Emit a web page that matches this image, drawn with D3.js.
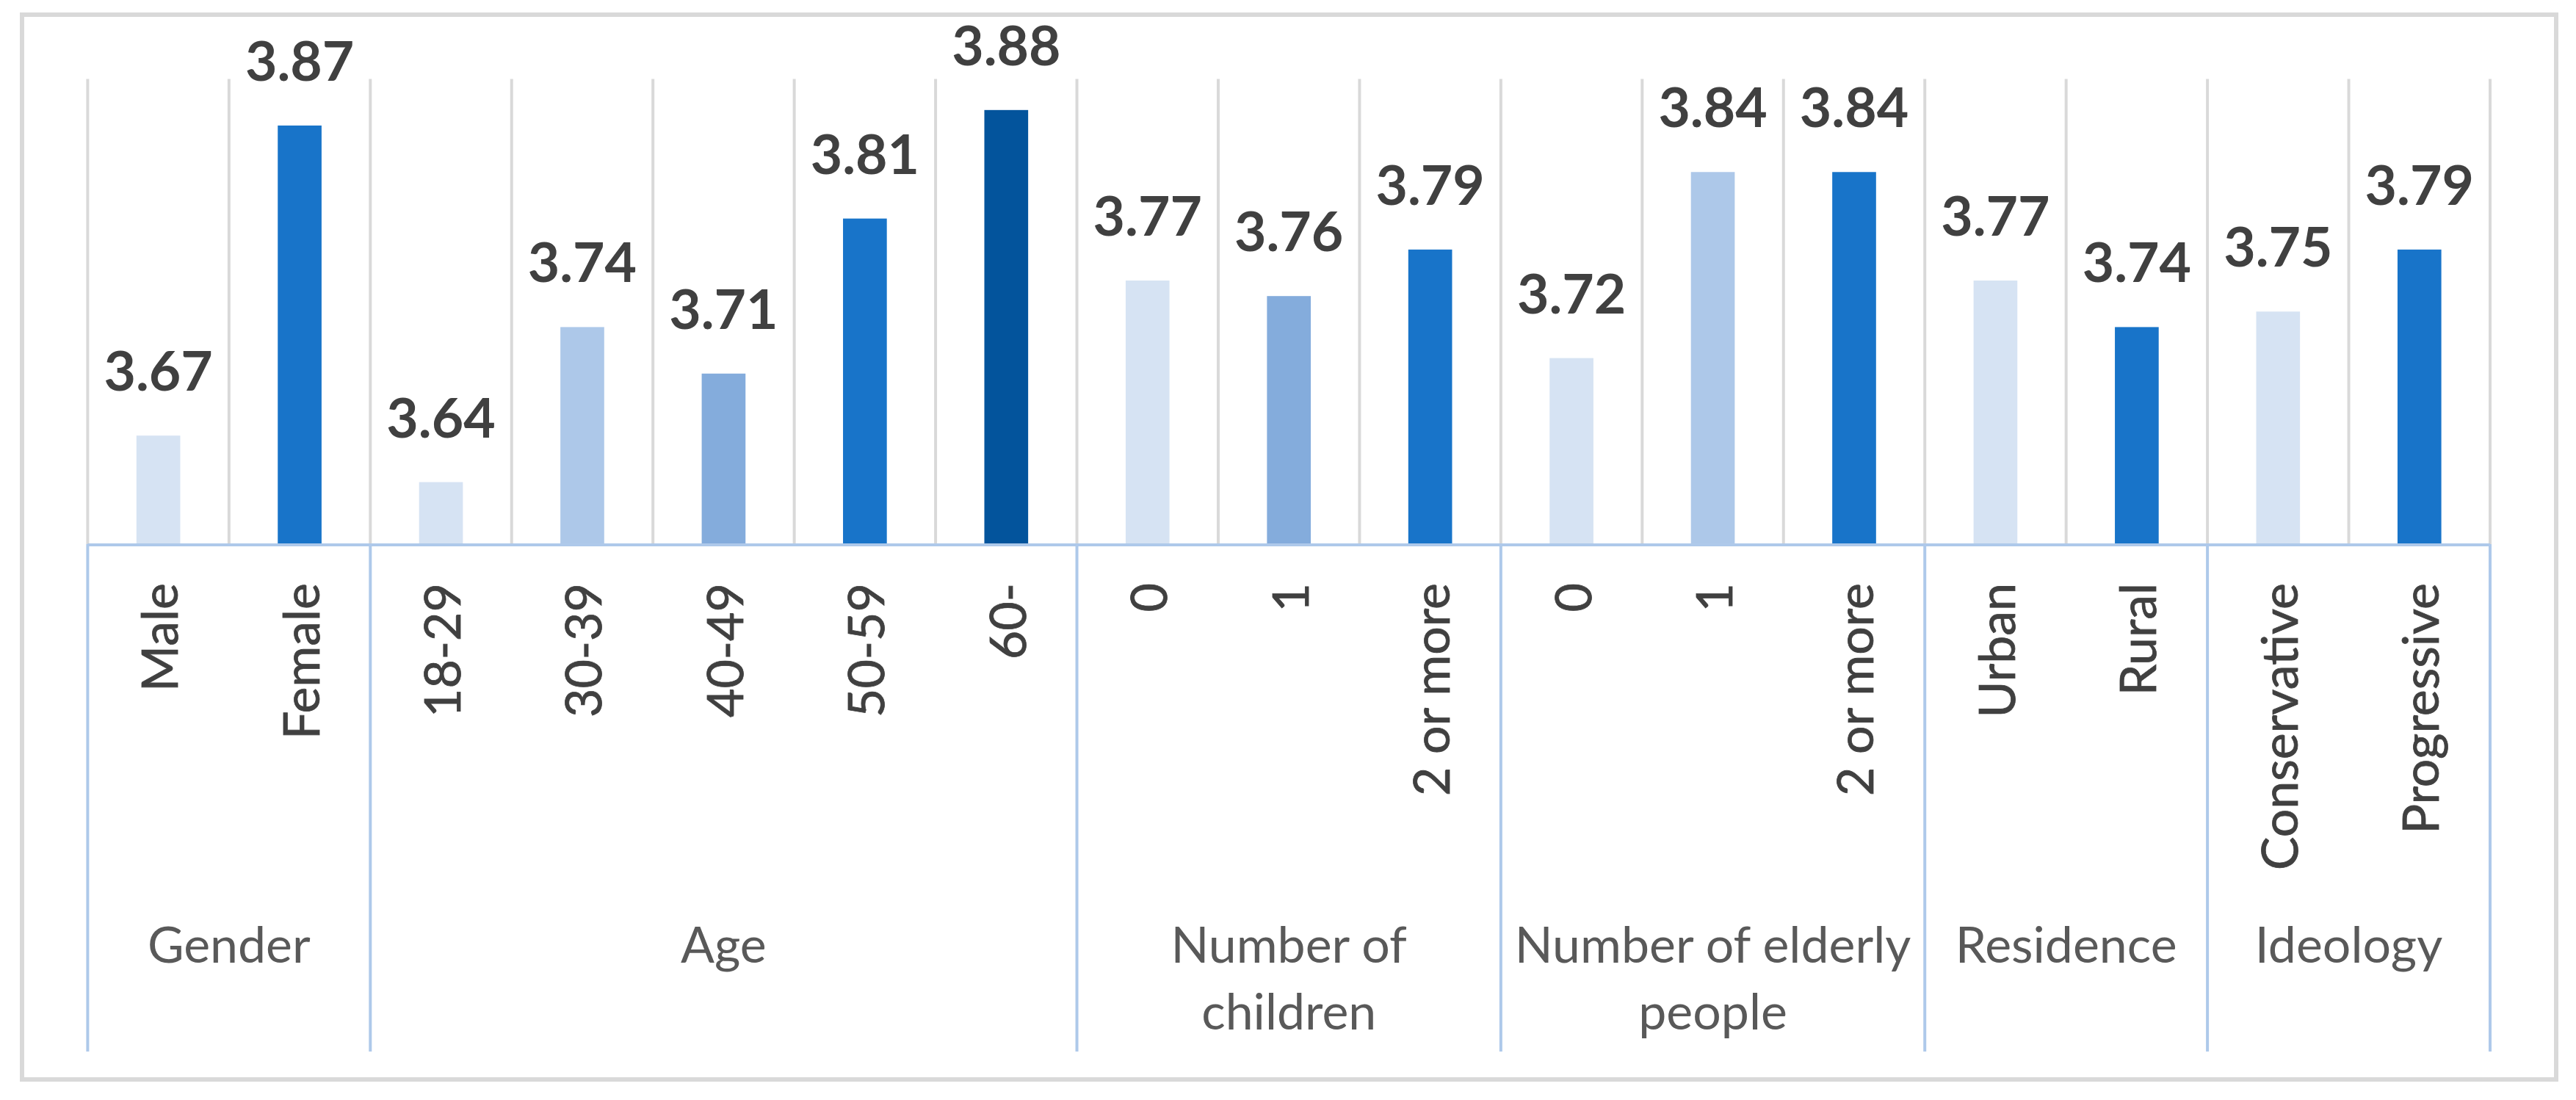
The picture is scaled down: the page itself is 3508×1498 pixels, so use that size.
<!DOCTYPE html>
<html>
<head>
    <title>Mean scores by respondent group</title>
    <script src="https://d3js.org/d3.v7.min.js"></script>
    <style>
        body { margin: 0; background: #fff; }
        .grid { stroke: #d9d9d9; stroke-width: 4px; }
        .axis-line { stroke: #aec9ea; stroke-width: 4px; }
        .value-label { font-family: Lato, "Open Sans", sans-serif; font-weight: bold; fill: #404040; }
        .cat-label { font-family: Lato, "Open Sans", sans-serif; fill: #404040; stroke: #404040; stroke-width: 0.8px; }
        .group-label { font-family: Lato, "Open Sans", sans-serif; fill: #595959; }
    </style>
</head>
<body>
    <div id="chart"></div>

    <script>
        // Data
        const categories = ["Male", "Female", "18-29", "30-39", "40-49", "50-59", "60-",
            "0", "1", "2 or more", "0", "1", "2 or more", "Urban", "Rural", "Conservative", "Progressive"];
        const values = [3.67, 3.87, 3.64, 3.74, 3.71, 3.81, 3.88,
            3.77, 3.76, 3.79, 3.72, 3.84, 3.84, 3.77, 3.74, 3.75, 3.79];
        const groups = ["Gender", "Age", "Number of\nchildren", "Number of elderly\npeople", "Residence", "Ideology"];
        const groupSizes = [2, 5, 3, 3, 2, 2];

        // bar fills, one per bar
        const barColors = ["#d6e3f3", "#1874c9", "#d6e3f3", "#adc8e9", "#84acdc", "#1874c9", "#03549c",
            "#d6e3f3", "#84acdc", "#1874c9", "#d6e3f3", "#adc8e9", "#1874c9",
            "#d6e3f3", "#1874c9", "#d6e3f3", "#1874c9"];

        const W = 3508, H = 1498;
        const plotLeft = 119.4, plotRight = 3391, plotTop = 107.6, base = 741, axisBottom = 1432;

        let svg = d3.select("#chart").append("svg")
            .attr("width", W)
            .attr("height", H);

        svg.append("rect").attr("width", W).attr("height", H).attr("fill", "#fff");

        // outer frame
        svg.append("rect")
            .attr("x", 30).attr("y", 20)
            .attr("width", 3451).attr("height", 1450)
            .attr("fill", "none")
            .attr("stroke", "#d9d9d9")
            .attr("stroke-width", 6);

        let idx = d3.range(categories.length);
        let x = d3.scaleBand().domain(idx).range([plotLeft, plotRight]).padding(0);
        let xBar = x.copy().paddingInner(0.69).paddingOuter(0.345);
        let y = d3.scaleLinear().domain([3.6, 3.9]).range([base, plotTop]);

        // vertical gridlines at every category edge
        let edges = d3.range(categories.length + 1).map(i => plotLeft + i * x.step());
        svg.selectAll(".grid")
            .data(edges)
            .enter().append("line")
            .attr("class", "grid")
            .attr("x1", d => d).attr("x2", d => d)
            .attr("y1", plotTop).attr("y2", base);

        // bars
        svg.selectAll(".bar")
            .data(values)
            .enter().append("rect")
            .attr("class", "bar")
            .attr("x", (d, i) => xBar(i))
            .attr("width", xBar.bandwidth())
            .attr("y", d => y(d))
            .attr("height", d => y(3.6) - y(d))
            .attr("fill", (d, i) => barColors[i]);

        // value labels
        svg.selectAll(".value-label")
            .data(values)
            .enter().append("text")
            .attr("class", "value-label")
            .attr("x", (d, i) => x(i) + x.bandwidth() / 2)
            .attr("y", d => y(d) - 61)
            .attr("text-anchor", "middle")
            .attr("font-size", 75)
            .text(d => d.toFixed(2));

        // horizontal axis line
        svg.append("line")
            .attr("class", "axis-line")
            .attr("x1", plotLeft).attr("x2", plotRight)
            .attr("y1", base + 1).attr("y2", base + 1);

        // group separators below the axis
        let starts = [0];
        groupSizes.forEach((s, i) => starts.push(starts[i] + s));
        svg.selectAll(".sep")
            .data(starts)
            .enter().append("line")
            .attr("class", "axis-line")
            .attr("x1", d => plotLeft + d * x.step()).attr("x2", d => plotLeft + d * x.step())
            .attr("y1", base).attr("y2", axisBottom);

        // rotated category labels
        svg.selectAll(".cat-label")
            .data(categories)
            .enter().append("text")
            .attr("class", "cat-label")
            .attr("font-size", 68)
            .attr("text-anchor", "end")
            .attr("dominant-baseline", "central")
            .attr("transform", (d, i) => `translate(${x(i) + x.bandwidth() / 2},794) rotate(-90)`)
            .text(d => d);

        // group labels
        let gl = svg.selectAll(".group-label")
            .data(groups)
            .enter().append("text")
            .attr("class", "group-label")
            .attr("font-size", 68)
            .attr("text-anchor", "middle")
            .attr("x", (d, i) => plotLeft + (starts[i] + groupSizes[i] / 2) * x.step())
            .attr("y", 1311);

        gl.selectAll("tspan")
            .data(d => d.split("\n"))
            .enter().append("tspan")
            .attr("x", function() { return d3.select(this.parentNode).attr("x"); })
            .attr("dy", (d, i) => i === 0 ? 0 : 91)
            .text(d => d);
    </script>
</body>
</html>
